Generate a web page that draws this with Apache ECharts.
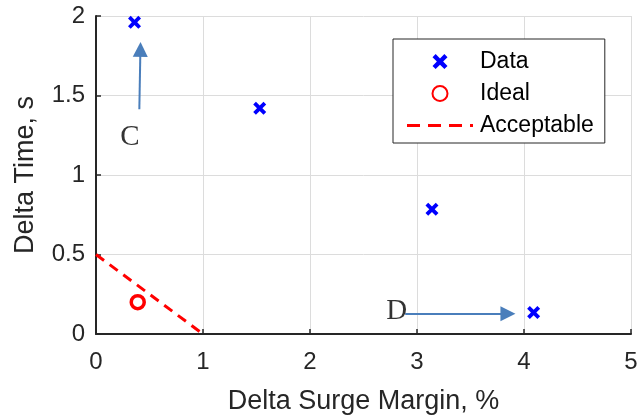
<!DOCTYPE html>
<html>
<head>
<meta charset="utf-8">
<script src="https://cdn.jsdelivr.net/npm/echarts@6/dist/echarts.min.js"></script>
<style>
html,body{margin:0;padding:0;background:#fff;}
#chart{width:639px;height:417px;}
</style>
</head>
<body>
<div id="chart"></div>
<script>
// Data
var dataX = [0.36, 1.53, 3.14, 4.09];
var dataY = [1.96, 1.42, 0.785, 0.135];
var idealX = [0.39];
var idealY = [0.20];
var acceptX = [0, 1];
var acceptY = [0.5, 0];
// Annotations
var annotLabels = ['C', 'D'];
var annotX = [0.318, 2.81];
var annotY = [1.234, 0.141];
var arrowStart = [[0.405, 1.413], [2.89, 0.128]];
var arrowEnd = [[0.415, 1.79], [3.85, 0.128]];
// Axes
var xTicks = [0, 1, 2, 3, 4, 5];
var yTicks = [0, 0.5, 1, 1.5, 2];

var zip = function (a, b) { return a.map(function (v, i) { return [v, b[i]]; }); };
var dark = '#262626';
var font = '"Liberation Sans", Arial, sans-serif';
var crossPath = 'path://M0,2.5 L2.5,0 L6,3.5 L9.5,0 L12,2.5 L8.5,6 L12,9.5 L9.5,12 L6,8.5 L2.5,12 L0,9.5 L3.5,6 Z';
var dashPath = 'path://M0,0h13v3h-13z M21,0h13v3h-13z M42,0h13v3h-13z M63,0h3v3h-3z';

var chart = echarts.init(document.getElementById('chart'), null, {renderer: 'canvas'});
chart.setOption({
  animation: false,
  backgroundColor: '#fff',
  grid: {left: 96, right: 8, top: 16, bottom: 83, containLabel: false, outerBoundsMode: 'none'},
  xAxis: {
    type: 'value', min: xTicks[0], max: xTicks[xTicks.length - 1], interval: 1,
    name: 'Delta Surge Margin, %', nameLocation: 'middle', nameGap: 54,
    nameTextStyle: {fontFamily: font, fontSize: 27, color: dark},
    axisLine: {show: true, onZero: false, lineStyle: {color: dark, width: 2}},
    axisTick: {show: true, inside: true, length: 5, lineStyle: {color: dark, width: 1.5}},
    axisLabel: {fontFamily: font, fontSize: 24, color: dark, margin: 16},
    splitLine: {show: true, lineStyle: {color: '#dcdcdc', width: 1}}
  },
  yAxis: {
    type: 'value', min: yTicks[0], max: yTicks[yTicks.length - 1], interval: 0.5,
    name: 'Delta Time, s', nameLocation: 'middle', nameGap: 57, nameRotate: 90,
    nameTextStyle: {fontFamily: font, fontSize: 27, color: dark},
    axisLine: {show: true, onZero: false, lineStyle: {color: dark, width: 2}},
    axisTick: {show: true, inside: true, length: 5, lineStyle: {color: dark, width: 1.5}},
    axisLabel: {fontFamily: font, fontSize: 24, color: dark, margin: 11},
    splitLine: {show: true, lineStyle: {color: '#dcdcdc', width: 1}}
  },
  legend: {
    orient: 'vertical', left: 393, top: 39,
    padding: [11, 11, 6, 14], itemGap: 9,
    itemWidth: 66, itemHeight: 15,
    backgroundColor: '#fff', borderColor: dark, borderWidth: 1, borderRadius: 0,
    textStyle: {fontFamily: font, fontSize: 23, color: '#000', padding: [0, 0, 0, 2]},
    symbolKeepAspect: true,
    data: [
      {name: 'Data', icon: crossPath},
      {name: 'Ideal'},
      {name: 'Acceptable', icon: dashPath, itemStyle: {color: '#ff0000', borderWidth: 0}}
    ]
  },
  series: [
    {
      name: 'Acceptable', type: 'line', data: zip(acceptX, acceptY),
      symbol: 'none', z: 3,
      lineStyle: {color: '#ff0000', width: 3, type: [10, 7]},
      itemStyle: {color: '#ff0000'}
    },
    {
      name: 'Data', type: 'scatter', data: zip(dataX, dataY),
      symbol: crossPath, symbolSize: 13, symbolKeepAspect: true, z: 4,
      itemStyle: {color: '#0000ff', opacity: 1}
    },
    {
      name: 'Ideal', type: 'scatter', data: zip(idealX, idealY),
      symbol: 'circle', symbolSize: 13, z: 4,
      itemStyle: {color: '#ffffff', borderColor: '#ff0000', borderWidth: 3.5, opacity: 1}
    },
    {
      name: 'annot', type: 'scatter', data: zip(annotX, annotY).map(function (p, i) { return {value: p, name: annotLabels[i]}; }),
      symbolSize: 0, silent: true, z: 5,
      label: {show: true, position: 'inside', formatter: '{b}', fontFamily: '"Liberation Serif", "Times New Roman", serif', fontSize: 29, color: '#000'},
      markLine: {
        silent: true, symbol: ['none', 'triangle'], symbolSize: [15, 15],
        label: {show: false},
        lineStyle: {color: '#4a7ebb', width: 2, type: 'solid'},
        data: arrowStart.map(function (s, i) { return [{coord: s}, {coord: arrowEnd[i]}]; })
      }
    }
  ]
});
</script>
</body>
</html>
